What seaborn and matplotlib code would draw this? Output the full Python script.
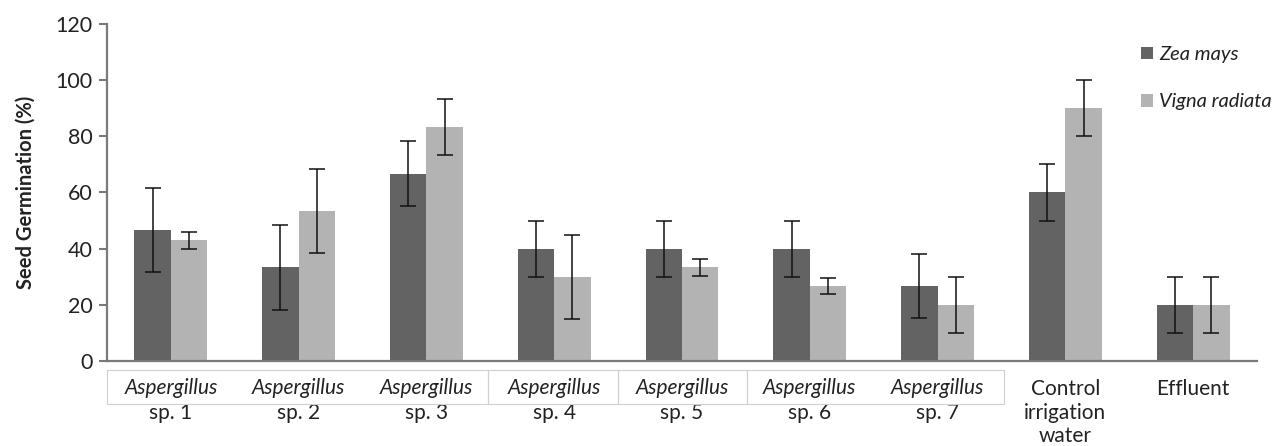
import numpy as np
import pandas as pd
import matplotlib
matplotlib.use("Agg")
import matplotlib.pyplot as plt
from matplotlib.patches import Rectangle
import seaborn as sns

# Data
groups = ['sp. 1', 'sp. 2', 'sp. 3', 'sp. 4', 'sp. 5', 'sp. 6', 'sp. 7', 'Control', 'Effluent']
group_labels = [('Aspergillus', 'sp. 1'), ('Aspergillus', 'sp. 2'), ('Aspergillus', 'sp. 3'),
                ('Aspergillus', 'sp. 4'), ('Aspergillus', 'sp. 5'), ('Aspergillus', 'sp. 6'),
                ('Aspergillus', 'sp. 7'), (None, 'Control\nirrigation\nwater'), (None, 'Effluent')]
species = ['Zea mays', 'Vigna radiata']
zea = [46.7, 33.3, 66.7, 40.0, 40.0, 40.0, 26.7, 60.0, 20.0]
zea_err = [15.0, 15.0, 11.5, 10.0, 10.0, 10.0, 11.5, 10.0, 10.0]
vigna = [43.0, 53.3, 83.3, 30.0, 33.3, 26.7, 20.0, 90.0, 20.0]
vigna_err = [3.0, 15.0, 10.0, 15.0, 3.0, 3.0, 10.0, 10.0, 10.0]
yticks = [0, 20, 40, 60, 80, 100, 120]

colors = ['#636363', '#b3b3b3']

df = pd.DataFrame({
    'group': groups * 2,
    'species': [species[0]] * len(groups) + [species[1]] * len(groups),
    'value': zea + vigna,
})

sns.set_style('white')
plt.rcParams['font.family'] = ['Lato', 'DejaVu Sans']

fig = plt.figure(figsize=(12.72, 4.46), dpi=100)
ax = fig.add_axes([0.0841, 0.1906, 0.9041, 0.7556])

sns.barplot(data=df, x='group', y='value', hue='species', order=groups, hue_order=species,
            palette=colors, width=0.57, errorbar=None, linewidth=0, ax=ax, legend=False)

# error bars at the bar centres
for cont, err in zip(ax.containers, [zea_err, vigna_err]):
    xs = [b.get_x() + b.get_width() / 2 for b in cont]
    hs = [b.get_height() for b in cont]
    ax.errorbar(xs, hs, yerr=err, fmt='none', ecolor='#111111', elinewidth=1.1,
                capsize=5.5, capthick=1.1)

ax.set_xlim(-0.5, len(groups) - 0.5)
ax.set_ylim(0, 120)
ax.set_yticks(yticks)
ax.tick_params(axis='y', labelsize=15.5, length=5.5, width=1.5, color='#7a7a7a',
               labelcolor='#222222', left=True, direction='out', pad=5)
ax.set_xticks([])
ax.set_xlabel('')
ax.set_ylabel('Seed Germination (%)', fontsize=14.5, fontweight='bold', color='#222222', labelpad=14)

for side in ['top', 'right']:
    ax.spines[side].set_visible(False)
for side in ['left', 'bottom']:
    ax.spines[side].set_color('#7a7a7a')
    ax.spines[side].set_linewidth(1.6)

# two-line category labels, italic genus
fs = 15
for i, (genus, rest) in enumerate(group_labels):
    if genus is not None:
        ax.annotate(genus, xy=(i, 0), xycoords=('data', 'axes fraction'), xytext=(0, -19.5),
                    textcoords='offset points', ha='center', va='center', fontsize=fs,
                    style='italic', color='#222222')
        ax.annotate(rest, xy=(i, 0), xycoords=('data', 'axes fraction'), xytext=(0, -37.5),
                    textcoords='offset points', ha='center', va='center', fontsize=fs,
                    color='#222222')
    else:
        ax.annotate(rest, xy=(i, 0), xycoords=('data', 'axes fraction'), xytext=(0, -13),
                    textcoords='offset points', ha='center', va='top', fontsize=fs,
                    color='#222222', linespacing=1.22)

# thin boxes behind the Aspergillus labels
W, H = 1272, 446
box_edges = [107, 488, 618, 747, 1004]
for x0, x1 in zip(box_edges[:-1], box_edges[1:]):
    fig.add_artist(Rectangle((x0 / W, 1 - 404 / H), (x1 - x0) / W, 34 / H,
                             transform=fig.transFigure, fill=False, edgecolor='#d0d0d0',
                             linewidth=0.8))

handles = [Rectangle((0, 0), 1, 1, facecolor=c, edgecolor='none') for c in colors]
leg = ax.legend(handles, species, loc='upper left', bbox_to_anchor=(1123 / W, 1 - 28 / H),
                bbox_transform=fig.transFigure, frameon=False, handlelength=0.6,
                handleheight=0.6, handletextpad=0.3, labelspacing=1.5,
                prop={'size': 14.5, 'style': 'italic'})
for t in leg.get_texts():
    t.set_color('#222222')

fig.savefig('out.png', dpi=100)
